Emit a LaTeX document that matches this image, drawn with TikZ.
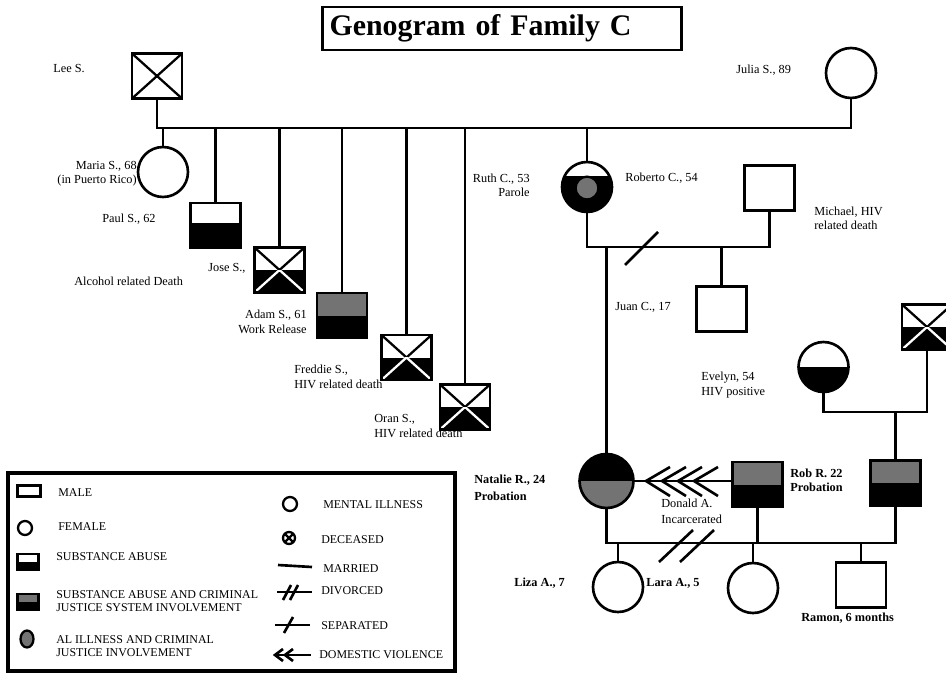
\documentclass[tikz,border=0pt]{standalone}
\usepackage{fontspec}
\setmainfont{Liberation Serif}
\usetikzlibrary{shapes.geometric}
\definecolor{cjgray}{gray}{0.45}

\tikzset{
  male/.style={rectangle, draw, fill=white, minimum width=1cm, minimum height=0.9cm, inner sep=0pt},
  female/.style={circle, draw, fill=white, minimum size=1cm, inner sep=0pt},
  lowblack/.style={path picture={\fill[black] (path picture bounding box.south west) rectangle ([yshift=#1]path picture bounding box.east);}},
  lowblack/.default=0pt,
  graytop/.style={path picture={\fill[black] (path picture bounding box.south west) rectangle (path picture bounding box.east);
      \fill[cjgray] (path picture bounding box.north west) rectangle (path picture bounding box.east);}},
  crossed/.style={path picture={\draw[line width=1.3pt] (path picture bounding box.south west) -- (path picture bounding box.north east)
      (path picture bounding box.north west) -- (path picture bounding box.south east);}},
  deadsa/.style={path picture={\fill[black] (path picture bounding box.south west) rectangle (path picture bounding box.east);
      \draw[line width=1.3pt] (path picture bounding box.south west) -- (path picture bounding box.north east)
      (path picture bounding box.north west) -- (path picture bounding box.south east);
      \begin{scope}
        \clip (path picture bounding box.south west) rectangle (path picture bounding box.east);
        \draw[white, line width=1.3pt] (path picture bounding box.south west) -- (path picture bounding box.north east)
        (path picture bounding box.north west) -- (path picture bounding box.south east);
      \end{scope}}},
  lbl/.style={font=\fontsize{7}{8.2}\selectfont, inner sep=0pt},
  boldlbl/.style={font=\fontsize{7}{9.4}\selectfont\bfseries, inner sep=0pt},
  leg/.style={font=\fontsize{6.8}{7.6}\selectfont, inner sep=0pt, align=left},
}

\begin{document}
\begin{tikzpicture}[x=0.02cm, y=-0.02cm, line width=1.5pt]
  \useasboundingbox (0,0) rectangle (946,673);

  \node[draw, line width=1.3pt, minimum height=0.86cm, text width=6.9cm, inner xsep=4pt, align=left,
        font=\fontsize{17}{20}\selectfont\bfseries] (title) at (502,28.5) {Genogram of Family C};

  % first generation
  \node[male, crossed] (lee) at (157,76) {};
  \node[female] (julia) at (851,73) {};
  \node[lbl, anchor=west] (leelbl) at (52,69) {Lee S.};
  \node[lbl, anchor=west] (julialbl) at (735,70) {Julia S., 89};

  % their children
  \node[female] (maria) at (163,172) {};
  \node[male, lowblack=1.4pt] (paul) at (215.5,225.5) {};
  \node[male, deadsa] (jose) at (279.5,270) {};
  \node[male, graytop] (adam) at (342,315.5) {};
  \node[male, deadsa] (freddie) at (406.5,357.5) {};
  \node[male, deadsa] (oran) at (465,407) {};
  \node[female, path picture={\fill[black] (path picture bounding box.south west) rectangle ([yshift=6pt]path picture bounding box.east);
        \filldraw[fill=cjgray, draw=black, line width=1.3pt] ([yshift=-0.6pt]path picture bounding box.center) circle (6.5pt);}] (ruth) at (587,187) {};

  \node[lbl, anchor=east, align=right] (marialbl) at (138,174) {Maria S., 68\\(in Puerto Rico)};
  \node[lbl, anchor=west] (paullbl) at (101,219) {Paul S., 62};
  \node[lbl, anchor=west] (alcolbl) at (73,281) {Alcohol related Death};
  \node[lbl, anchor=west] (joselbl) at (207,268) {Jose S.,};
  \node[lbl, anchor=east, align=right] (adamlbl) at (308,322) {Adam S., 61\\Work Release};
  \node[lbl, anchor=west, align=left] (freddielbl) at (293,377) {Freddie S.,\\HIV related death};
  \node[lbl, anchor=west, align=left] (oranlbl) at (373,426) {Oran S.,\\HIV related death};
  \node[lbl, anchor=east, align=right] (ruthlbl) at (531,185) {Ruth C., 53\\Parole};

  \coordinate (sibline) at (0,128);
  \draw (lee.south) -- (lee.south |- sibline) -| (julia.south);
  \draw (maria.north) -- (maria.north |- sibline);
  \draw (paul.north) -- (paul.north |- sibline);
  \draw (jose.north) -- (jose.north |- sibline);
  \draw (adam.north) -- (adam.north |- sibline);
  \draw (freddie.north) -- (freddie.north |- sibline);
  \draw (oran.north) -- (oran.north |- sibline);
  \draw (ruth.north) -- (ruth.north |- sibline);

  % Ruth and Roberto
  \node[male] (roberto) at (769.5,188) {};
  \node[male] (juan) at (721.5,309) {};
  \node[female, minimum size=1.08cm, path picture={\fill[cjgray] (path picture bounding box.south west) rectangle (path picture bounding box.east);
        \fill[black] (path picture bounding box.north west) rectangle (path picture bounding box.east);}] (natalie) at (606.5,481) {};
  \node[lbl, anchor=west] (robertolbl) at (624,178) {Roberto C., 54};
  \node[lbl, anchor=west, align=left] (michaellbl) at (813,218) {Michael, HIV\\related death};
  \node[lbl, anchor=west] (juanlbl) at (614,307) {Juan C., 17};

  \coordinate (rrline) at (0,247);
  \draw (ruth.south) -- (ruth.south |- rrline) -| (roberto.south);
  \draw (natalie.north) -- (natalie.north |- rrline);
  \draw (juan.north) -- (juan.north |- rrline);
  \draw (625,265) -- (658,232);

  % Evelyn
  \node[female, lowblack] (evelyn) at (823.5,367) {};
  \node[male, deadsa] (evhusb) at (927,327) {};
  \node[male, graytop] (rob) at (895.5,483) {};
  \node[lbl, anchor=west, align=left] (evelynlbl) at (700,385) {Evelyn, 54\\HIV positive};

  \coordinate (evline) at (0,412);
  \draw (evelyn.south) -- (evelyn.south |- evline) -| (evhusb.south);
  \draw (rob.north) -- (rob.north |- evline);

  % Natalie
  \node[male, graytop] (donald) at (757.5,484.5) {};
  \node[boldlbl, anchor=west, align=left] (natalielbl) at (473,488) {Natalie R., 24\\Probation};
  \node[lbl, anchor=west, align=left, font=\fontsize{7}{9}\selectfont] (donaldlbl) at (660,511) {Donald A.\\Incarcerated};
  \node[boldlbl, anchor=west, align=left, font=\fontsize{7}{8.2}\selectfont\bfseries] (roblbl) at (789,480) {Rob R. 22\\Probation};

  \draw (natalie.east) -- (natalie.east -| donald.west);
  \draw (670,467) -- (646,481) -- (670,496);
  \draw (686,467) -- (662,481) -- (686,496);
  \draw (702,467) -- (678,481) -- (702,496);
  \draw (718,467) -- (694,481) -- (718,496);

  % grandchildren
  \node[female] (liza) at (618,587) {};
  \node[female] (lara) at (753,588) {};
  \node[male] (ramon) at (861,585) {};
  \node[boldlbl, anchor=west] (lizalbl) at (513,583) {Liza A., 7};
  \node[boldlbl, anchor=west] (laralbl) at (645,583) {Lara A., 5};
  \node[boldlbl, anchor=west] (ramonlbl) at (800,618) {Ramon, 6 months};

  \coordinate (kidline) at (0,543);
  \draw (natalie.south) -- (natalie.south |- kidline) -| (rob.south);
  \draw (donald.south) -- (donald.south |- kidline);
  \draw (liza.north) -- (liza.north |- kidline);
  \draw (lara.north) -- (lara.north |- kidline);
  \draw (ramon.north) -- (ramon.north |- kidline);
  \draw (659,562) -- (693,530);
  \draw (680,562) -- (714,530);

  % legend
  \draw[line width=2.2pt] (8,473) rectangle (455,671);

  \node[male, line width=1.3pt, minimum width=0.46cm, minimum height=0.22cm] (lmale) at (29,491) {};
  \node[female, line width=1.3pt, minimum size=0.28cm] (lfemale) at (25,528) {};
  \node[male, lowblack, line width=1.3pt, minimum width=0.42cm, minimum height=0.32cm] (lsa) at (28,562) {};
  \node[male, graytop, line width=1.3pt, minimum width=0.42cm, minimum height=0.32cm] (lsacj) at (28,602) {};
  \node[ellipse, draw, fill=cjgray, line width=1.3pt, minimum width=0.26cm, minimum height=0.34cm, inner sep=0pt] (lcj) at (27,639) {};

  \node[leg, anchor=west] (tmale) at (57,493) {MALE};
  \node[leg, anchor=west] (tfemale) at (57,527) {FEMALE};
  \node[leg, anchor=west] (tsa) at (55,557) {SUBSTANCE ABUSE};
  \node[leg, anchor=west] (tsacj) at (55,601) {SUBSTANCE ABUSE AND CRIMINAL\\JUSTICE SYSTEM INVOLVEMENT};
  \node[leg, anchor=west] (tcj) at (55,646) {AL ILLNESS AND CRIMINAL\\JUSTICE INVOLVEMENT};

  \node[female, line width=1.3pt, minimum size=0.28cm] (lmental) at (290,504) {};
  \node[circle, draw, crossed, line width=1.3pt, minimum size=0.24cm, inner sep=0pt] (ldead) at (289,538) {};
  \draw (278,565) -- (312,567);
  \draw (277,592) -- (312,592);
  \draw (283,600) -- (291,585);
  \draw (290,600) -- (298,585);
  \draw (275,625) -- (310,625);
  \draw (284,633) -- (293,617);
  \draw (275,655) -- (311,655);
  \draw (283,649) -- (275,655) -- (283,661);
  \draw (293,649) -- (285,655) -- (293,661);

  \node[leg, anchor=west] (tmental) at (322,505) {MENTAL ILLNESS};
  \node[leg, anchor=west] (tdead) at (320,540) {DECEASED};
  \node[leg, anchor=west] (tmarried) at (322,569) {MARRIED};
  \node[leg, anchor=west] (tdiv) at (320,591) {DIVORCED};
  \node[leg, anchor=west] (tsep) at (320,626) {SEPARATED};
  \node[leg, anchor=west] (tdv) at (318,655) {DOMESTIC VIOLENCE};
\end{tikzpicture}
\end{document}
